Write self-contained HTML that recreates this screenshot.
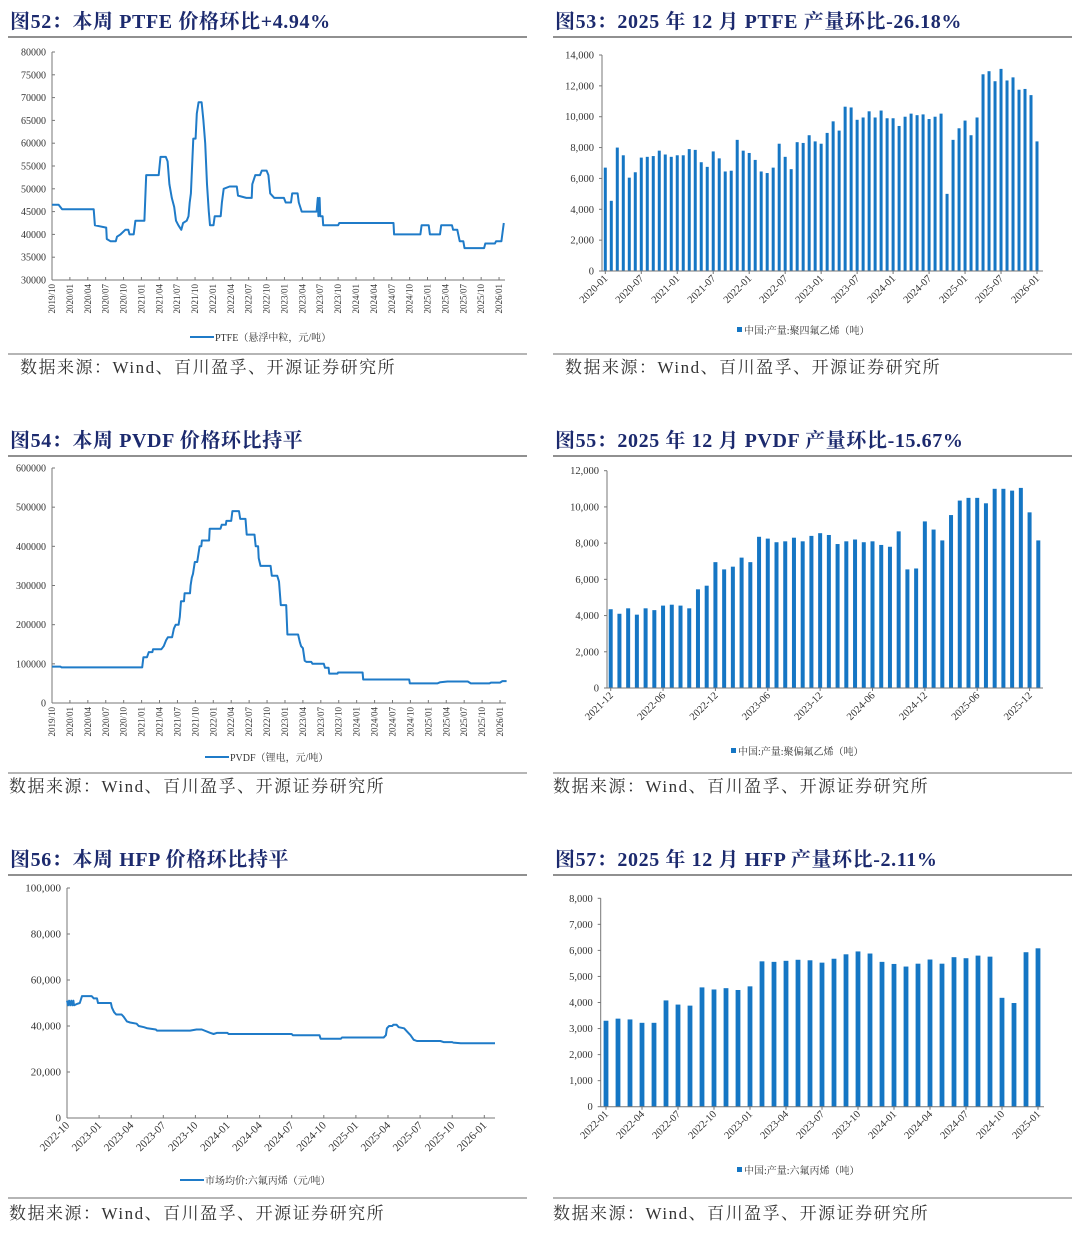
<!DOCTYPE html>
<html><head><meta charset="utf-8">
<style>
html,body{margin:0;padding:0;background:#fff;}
svg{display:block;font-family:"Liberation Serif","Noto Serif CJK SC",serif;}
</style></head>
<body>
<svg id="pg" width="1080" height="1233" viewBox="0 0 1080 1233" xmlns="http://www.w3.org/2000/svg"></svg>
<script>
// ---------- DATA ----------
// PTFE price (x: months since 2019-10)
const ptfeM = [0,1.1,1.7,7.0,7.2,9.1,9.2,9.8,10.7,10.9,11.5,12.3,12.8,13.0,13.7,14.0,15.5,15.8,17.9,18.2,19.1,19.4,19.7,20.1,20.5,20.8,21.2,21.7,22.0,22.6,22.9,23.1,23.3,23.5,23.7,24.1,24.3,24.6,25.1,25.4,25.7,26.0,26.3,26.5,27.1,27.3,28.3,28.5,28.8,29.8,31.0,31.2,32.6,33.5,33.6,34.1,34.9,35.2,36.0,36.3,36.6,37.3,38.9,39.2,40.1,40.3,41.2,41.4,41.9,44.4,44.6,44.7,44.9,45.0,45.4,45.5,48.0,48.2,57.3,57.4,61.8,62.0,63.2,63.4,65.1,65.3,67.1,67.3,68.0,68.4,69.0,69.2,72.5,72.7,74.3,74.5,75.4,75.6,75.8];
const ptfeV = [46500,46500,45500,45500,42000,41500,39000,38500,38500,39500,40000,41000,41000,40000,40000,43000,43000,53000,53000,57000,57000,56000,51000,48000,46000,43000,42000,41000,42500,43000,44000,47000,49000,55000,61000,61000,66500,69000,69000,65000,60000,51000,45000,42000,42000,44000,44000,47000,50000,50500,50500,48500,48000,48000,51000,53000,53000,54000,54000,53000,49000,48000,48000,47000,47000,49000,49000,47000,45000,45000,48000,44000,48000,44000,44000,42000,42000,42500,42500,40000,40000,42000,42000,40000,40000,42000,42000,41000,41000,38500,38500,37000,37000,38000,38000,38500,38500,40500,42500];
const ptfeTicks = ["2019/10","2020/01","2020/04","2020/07","2020/10","2021/01","2021/04","2021/07","2021/10","2022/01","2022/04","2022/07","2022/10","2023/01","2023/04","2023/07","2023/10","2024/01","2024/04","2024/07","2024/10","2025/01","2025/04","2025/07","2025/10","2026/01"];
const ptfeY = [30000,35000,40000,45000,50000,55000,60000,65000,70000,75000,80000];

// PVDF price
const pvdfM = [0,1.4,1.6,15.1,15.3,15.9,16.2,16.8,16.9,18.3,18.7,19.1,19.4,20.1,20.4,20.7,21.2,21.4,21.6,22.1,22.2,23.1,23.2,23.4,23.6,23.9,24.3,24.5,24.7,25.0,25.1,26.3,26.4,28.2,28.4,29.1,29.2,30.0,30.2,31.3,31.5,32.4,32.6,33.9,34.1,34.5,34.6,34.9,36.6,36.8,37.7,38.0,38.3,39.2,39.4,41.2,41.5,41.7,42.0,42.3,42.6,43.4,43.6,45.5,45.7,46.3,46.4,47.8,47.9,52.0,52.1,59.8,59.9,64.5,65.0,66.2,69.6,70.1,73.2,73.5,75.0,75.4,76.1];
const pvdfV = [93000,93000,91000,91000,117000,117000,130000,130000,137000,137000,145000,160000,168000,168000,190000,200000,200000,220000,260000,260000,280000,280000,300000,320000,330000,360000,360000,380000,400000,400000,415000,415000,445000,445000,455000,455000,465000,465000,490000,490000,470000,470000,430000,430000,400000,400000,370000,350000,350000,325000,325000,310000,250000,250000,175000,175000,155000,145000,140000,108000,105000,105000,100000,100000,90000,90000,75000,75000,78000,78000,60000,60000,50000,50000,53000,55000,55000,50000,50000,52000,52000,56000,56000];
const pvdfY = [0,100000,200000,300000,400000,500000,600000];

// HFP price (x: months since 2022-10)
const hfpM = [0,0.1,0.2,0.3,0.4,0.5,0.6,0.65,0.9,1.2,1.4,2.3,2.5,2.8,2.9,4.1,4.2,4.4,4.6,5.1,5.3,5.6,5.9,6.5,6.7,7.2,7.5,8.3,8.4,11.5,12.1,12.6,13.4,13.7,14.0,15.0,15.1,21.0,21.1,23.6,23.7,25.6,25.7,29.6,29.8,29.9,30.1,30.4,30.5,30.8,31.0,31.5,31.8,32.1,32.4,32.7,34.9,35.2,36.0,36.1,36.8,40.0];
const hfpV = [51000,49000,51000,49000,51000,49000,51000,49000,49500,50000,53000,53000,52000,52000,50000,50000,48000,46000,45000,45000,44000,42000,41500,41000,40000,39500,39000,38500,38000,38000,38500,38500,37000,36500,37000,37000,36500,36500,36000,36000,34500,34500,35000,35000,36000,39000,40000,40000,40500,40500,39500,39000,37500,36000,34000,33500,33500,33000,33000,32800,32500,32500];
const hfpTicks = ["2022-10","2023-01","2023-04","2023-07","2023-10","2024-01","2024-04","2024-07","2024-10","2025-01","2025-04","2025-07","2025-10","2026-01"];
const hfpY = [0,20000,40000,60000,80000,100000];

// PTFE production (2020-01 .. 2026-01)
const ptfeProd = [6700,4550,8000,7500,6050,6400,7350,7400,7450,7800,7550,7400,7500,7500,7900,7850,7050,6750,7750,7300,6450,6500,8500,7800,7650,7200,6450,6350,6700,8250,7400,6600,8350,8300,8800,8400,8250,8950,9700,9100,10650,10600,9800,9950,10350,9950,10400,9900,9900,9400,10000,10200,10100,10150,9850,10000,10200,5000,8500,9250,9750,8800,9950,12750,12950,12300,13100,12350,12550,11750,11800,11400,8400];
const ptfeProdLabels = ["2020-01","2020-07","2021-01","2021-07","2022-01","2022-07","2023-01","2023-07","2024-01","2024-07","2025-01","2025-07","2026-01"];
const ptfeProdY = [0,2000,4000,6000,8000,10000,12000,14000];

// PVDF production (2021-12 .. 2026-01)
const pvdfProd = [4350,4100,4400,4050,4400,4300,4550,4600,4550,4400,5450,5650,6950,6550,6700,7200,6950,8350,8250,8050,8100,8300,8100,8400,8550,8450,7950,8100,8200,8050,8100,7900,7800,8650,6550,6600,9200,8750,8150,9550,10350,10500,10500,10200,11000,11000,10900,11050,9700,8150];
const pvdfProdLabels = ["2021-12","2022-06","2022-12","2023-06","2023-12","2024-06","2024-12","2025-06","2025-12"];
const pvdfProdY = [0,2000,4000,6000,8000,10000,12000];

// HFP production (2022-01 .. 2025-01)
const hfpProd = [3300,3380,3350,3220,3220,4080,3920,3880,4580,4500,4550,4480,4620,5580,5560,5600,5640,5620,5530,5680,5850,5960,5880,5560,5480,5380,5490,5650,5490,5740,5700,5800,5760,4180,3980,5930,6080];
const hfpProdLabels = ["2022-01","2022-04","2022-07","2022-10","2023-01","2023-04","2023-07","2023-10","2024-01","2024-04","2024-07","2024-10","2025-01"];
const hfpProdY = [0,1000,2000,3000,4000,5000,6000,7000,8000];

// ---------- DRAWING ----------
const NS = "http://www.w3.org/2000/svg";
const pg = document.getElementById('pg');
const BLUE = "#1f7bc8";
function mk(tag, attrs, parent, txt){
  const e = document.createElementNS(NS, tag);
  for (const k in attrs) e.setAttribute(k, attrs[k]);
  if (txt !== undefined) e.textContent = txt;
  (parent || pg).appendChild(e);
  return e;
}
function fmt(v, comma){ return comma ? v.toLocaleString('en-US') : String(v); }

function header(x, y, x1, x2, title, lineY, srcX, srcY, name){
  const t = mk('text', {x:x, y:y, 'font-size':20, 'font-weight':'bold', fill:'#1c2a6e', 'letter-spacing':0.6}, pg, title);
  
  
  const l = mk('line', {x1:x1, x2:x2, y1:lineY, y2:lineY, stroke:'#6b6b6b', 'stroke-width':1.5});
  
  
  const s = mk('text', {x:srcX, y:srcY, 'font-size':17, fill:'#333', 'letter-spacing':1.5}, pg, '数据来源：Wind、百川盈孚、开源证券研究所');
  
  
}
function rule(x1, x2, y, name){
  const l = mk('line', {x1:x1, x2:x2, y1:y, y2:y, stroke:'#6b6b6b', 'stroke-width':1});
  
  
}

function lineChart(o){
  const g = mk('g', {});
  
  
  const sx = m => o.x0 + (m - o.mMin) / (o.mMax - o.mMin) * (o.x1 - o.x0);
  const yMin = o.yTicks[0], yMax = o.yTicks[o.yTicks.length-1];
  const sy = v => o.yb - (v - yMin) / (yMax - yMin) * (o.yb - o.yt);
  const ax = mk('line', {x1:o.x0, x2:o.x0, y1:o.yt, y2:o.yb, stroke:'#777', 'stroke-width':1}, g);
  
  
  const bx = mk('line', {x1:o.x0, x2:o.x1, y1:o.yb, y2:o.yb, stroke:'#777', 'stroke-width':1}, g);
  
  
  o.yTicks.forEach(v => {
    const y = sy(v);
    mk('line', {x1:o.x0, x2:o.x0+3, y1:y, y2:y, stroke:'#777'}, g);
    const t = mk('text', {x:o.x0-6, y:y+3.5, 'font-size':o.yFont, 'text-anchor':'end', fill:'#333'}, g, fmt(v, o.comma));
    
    
  });
  o.xTicks.forEach((lab, i) => {
    const x = sx(i * o.tickStep);
    mk('line', {x1:x, x2:x, y1:o.yb, y2:o.yb-3, stroke:'#777'}, g);
    let t;
    if (o.rot === 90) {
      t = mk('text', {x:0, y:0, 'font-size':9, 'text-anchor':'end', fill:'#333', transform:`translate(${x+3},${o.yb+4}) rotate(-90)`}, g, lab);
    } else {
      t = mk('text', {x:0, y:0, 'font-size':11, 'text-anchor':'end', fill:'#333', transform:`translate(${x+3},${o.yb+8}) rotate(-45)`}, g, lab);
    }
    
    
  });
  let d = '';
  o.m.forEach((m, i) => { d += (i ? 'L' : 'M') + sx(m).toFixed(1) + ',' + sy(o.v[i]).toFixed(1); });
  const p = mk('path', {d:d, fill:'none', stroke:BLUE, 'stroke-width':2, 'stroke-linejoin':'round'}, g);
  
  
  const lg = mk('g', {}, g);
  
  
  mk('line', {x1:o.legX, x2:o.legX+24, y1:o.legY-4, y2:o.legY-4, stroke:BLUE, 'stroke-width':2}, lg);
  mk('text', {x:o.legX+25, y:o.legY, 'font-size':10, fill:'#333'}, lg, o.legend);
}

function barChart(o){
  const g = mk('g', {});
  
  
  const n = o.data.length;
  const sx = i => o.c0 + i * (o.c1 - o.c0) / (n - 1);
  const yMax = o.yTicks[o.yTicks.length-1];
  const sy = v => o.yb - v / yMax * (o.yb - o.yt);
  o.data.forEach((v, i) => {
    const r = mk('rect', {x:sx(i)-o.bw/2, y:sy(v), width:o.bw, height:o.yb - sy(v), fill:'#1576c4'}, g);
    
    
  });
  const ax = mk('line', {x1:o.x0, x2:o.x0, y1:o.yt, y2:o.yb, stroke:'#777', 'stroke-width':1}, g);
  
  
  const bx = mk('line', {x1:o.x0, x2:o.x1, y1:o.yb, y2:o.yb, stroke:'#777', 'stroke-width':1}, g);
  
  
  o.yTicks.forEach(v => {
    const y = sy(v);
    mk('line', {x1:o.x0-3, x2:o.x0, y1:y, y2:y, stroke:'#777'}, g);
    const t = mk('text', {x:o.x0-8, y:y+3.5, 'font-size':10.5, 'text-anchor':'end', fill:'#333'}, g, fmt(v, true));
    
    
  });
  o.labels.forEach((lab, k) => {
    const x = sx(k * o.labStep);
    mk('line', {x1:x, x2:x, y1:o.yb, y2:o.yb+3, stroke:'#777'}, g);
    const t = mk('text', {x:0, y:0, 'font-size':10.5, 'text-anchor':'end', fill:'#333', transform:`translate(${x+3},${o.yb+8}) rotate(-45)`}, g, lab);
    
    
  });
  const lg = mk('g', {}, g);
  
  
  mk('rect', {x:o.legX, y:o.legY-7, width:5, height:5, fill:'#1576c4'}, lg);
  mk('text', {x:o.legX+7, y:o.legY, 'font-size':10, fill:'#333'}, lg, o.legend);
}

// ---- headers ----
header(10, 28, 8, 527, '图52：本周 PTFE 价格环比+4.94%', 37, 20, 373, 'fig52');
header(555, 28, 553, 1072, '图53：2025 年 12 月 PTFE 产量环比-26.18%', 37, 565, 373, 'fig53');
header(10, 447, 8, 527, '图54：本周 PVDF 价格环比持平', 456, 9, 792, 'fig54');
header(555, 447, 553, 1072, '图55：2025 年 12 月 PVDF 产量环比-15.67%', 456, 553, 792, 'fig55');
header(10, 866, 8, 527, '图56：本周 HFP 价格环比持平', 875, 9, 1219, 'fig56');
header(555, 866, 553, 1072, '图57：2025 年 12 月 HFP 产量环比-2.11%', 875, 553, 1219, 'fig57');
rule(8, 527, 354, 'fig52-bottom-rule'); rule(553, 1072, 354, 'fig53-bottom-rule');
rule(8, 527, 773, 'fig54-bottom-rule'); rule(553, 1072, 773, 'fig55-bottom-rule');
rule(8, 527, 1198, 'fig56-bottom-rule'); rule(553, 1072, 1198, 'fig57-bottom-rule');

// ---- charts ----
lineChart({name:'ptfe-price-chart', m:ptfeM, v:ptfeV, mMin:0, mMax:76, x0:52, x1:505, yt:52, yb:280,
  yTicks:ptfeY, yFont:10, comma:false, xTicks:ptfeTicks, tickStep:3, rot:90,
  legX:190, legY:341, legend:'PTFE（悬浮中粒，元/吨）'});
lineChart({name:'pvdf-price-chart', m:pvdfM, v:pvdfV, mMin:0, mMax:76, x0:52, x1:506, yt:468, yb:703,
  yTicks:pvdfY, yFont:10, comma:false, xTicks:ptfeTicks, tickStep:3, rot:90,
  legX:205, legY:761, legend:'PVDF（锂电，元/吨）'});
lineChart({name:'hfp-price-chart', m:hfpM, v:hfpV, mMin:0, mMax:40, x0:67, x1:495, yt:888, yb:1118,
  yTicks:hfpY, yFont:11, comma:true, xTicks:hfpTicks, tickStep:3, rot:45,
  legX:180, legY:1184, legend:'市场均价:六氟丙烯（元/吨）'});

barChart({name:'ptfe-production-chart', data:ptfeProd, c0:605.3, c1:1037, bw:3, x0:602, x1:1043, yt:55, yb:271,
  yTicks:ptfeProdY, labels:ptfeProdLabels, labStep:6, legX:737, legY:334, legend:'中国:产量:聚四氟乙烯（吨）'});
barChart({name:'pvdf-production-chart', data:pvdfProd, c0:610.7, c1:1038.3, bw:4, x0:607, x1:1043, yt:470.7, yb:688,
  yTicks:pvdfProdY, labels:pvdfProdLabels, labStep:6, legX:731, legY:755, legend:'中国:产量:聚偏氟乙烯（吨）'});
barChart({name:'hfp-production-chart', data:hfpProd, c0:606, c1:1038, bw:4.8, x0:600.7, x1:1044, yt:898.3, yb:1106.7,
  yTicks:hfpProdY, labels:hfpProdLabels, labStep:3, legX:737, legY:1174, legend:'中国:产量:六氟丙烯（吨）'});
</script>
</body></html>
